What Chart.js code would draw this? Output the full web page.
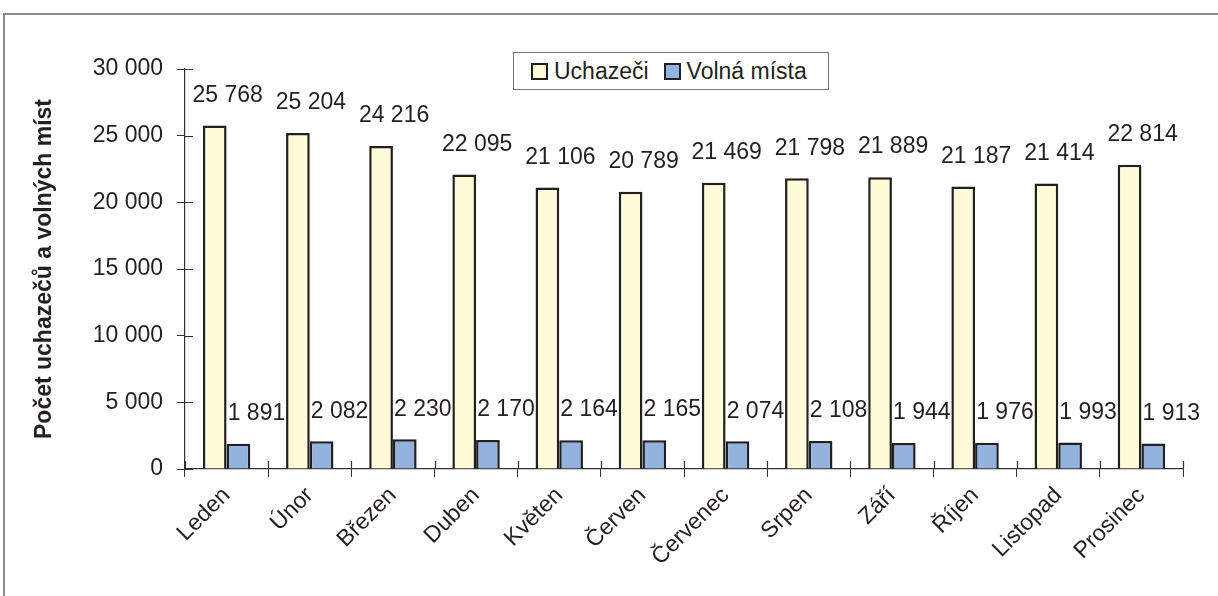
<!DOCTYPE html>
<html>
<head>
<meta charset="utf-8">
<script src="https://cdn.jsdelivr.net/npm/chart.js@4"></script>
<style>
  body { margin: 0; background: #fff; }
  #wrap { position: relative; width: 1218px; height: 596px; overflow: hidden; }
  #frame { position: absolute; left: 3px; top: 13px; width: 1300px; height: 700px;
           border: 2px solid #8a8a8a; box-sizing: border-box; }
  #legend { position: absolute; left: 513px; top: 52px; width: 316px; height: 38px;
            border: 1px solid #777; box-sizing: border-box; background: #fff;
            font: 23px "Liberation Sans", Arial, sans-serif; color: #231f20;
            display: flex; align-items: center; padding-left: 17px; }
  .sw { display: inline-block; width: 13px; height: 13px; border: 2px solid #231f20;
        margin-right: 6px; }
  .item { display: flex; align-items: center; margin-right: 15px; }
  canvas { position: absolute; left: 0; top: 0; }
</style>
</head>
<body>
<div id="wrap">
  <div id="frame"></div>
  <canvas id="myChart" width="1218" height="596"></canvas>
  <div id="legend">
    <span class="item"><span class="sw" style="background:#fffad8"></span>Uchazeči</span>
    <span class="item"><span class="sw" style="background:#93b3de"></span>Volná místa</span>
  </div>
</div>
<script>
var months = ["Leden","Únor","Březen","Duben","Květen","Červen","Červenec","Srpen","Září","Říjen","Listopad","Prosinec"];
var uchazeci = [25768, 25204, 24216, 22095, 21106, 20789, 21469, 21798, 21889, 21187, 21414, 22814];
var volnaMista = [1891, 2082, 2230, 2170, 2164, 2165, 2074, 2108, 1944, 1976, 1993, 1913];
var yTicks = [0, 5000, 10000, 15000, 20000, 25000, 30000];

function fmt(v) {
  return String(v).replace(/\B(?=(\d{3})+(?!\d))/g, " ");
}

var font = "Liberation Sans, Arial, sans-serif";
var ink = "#231f20";

// value labels above bars, shifted a bit to the right like in the original
var labelPlugin = {
  id: "labels",
  afterDatasetsDraw: function (chart) {
    var ctx = chart.ctx;
    ctx.save();
    ctx.font = "23px " + font;
    ctx.fillStyle = ink;
    ctx.textAlign = "center";
    ctx.textBaseline = "middle";
    var dx = [13, 18];
    chart.data.datasets.forEach(function (ds, i) {
      chart.getDatasetMeta(i).data.forEach(function (bar, j) {
        ctx.fillText(fmt(ds.data[j]), bar.x + dx[i], bar.y - 30);
      });
    });
    ctx.restore();
  }
};

// inner halves of the tick marks (ticks cross the axes)
var crossTicks = {
  id: "crossTicks",
  afterDraw: function (chart) {
    var ctx = chart.ctx, x = chart.scales.x, y = chart.scales.y;
    ctx.save();
    ctx.strokeStyle = "#333";
    ctx.lineWidth = 1.2;
    ctx.beginPath();
    yTicks.forEach(function (t) {
      var py = Math.round(y.getPixelForValue(t)) + 0.5;
      ctx.moveTo(x.left, py);
      ctx.lineTo(x.left + 8, py);
    });
    var w = (x.right - x.left) / months.length;
    for (var i = 0; i <= months.length; i++) {
      var px = Math.round(x.left + i * w) + 0.5;
      ctx.moveTo(px, y.bottom);
      ctx.lineTo(px, y.bottom - 8);
    }
    ctx.stroke();
    ctx.restore();
  }
};

new Chart("myChart", {
  type: "bar",
  data: {
    labels: months,
    datasets: [{
      label: "Uchazeči",
      data: uchazeci,
      backgroundColor: "#fffad8",
      borderColor: ink,
      borderWidth: 2.5
    }, {
      label: "Volná místa",
      data: volnaMista,
      backgroundColor: "#93b3de",
      borderColor: ink,
      borderWidth: 2.5
    }]
  },
  options: {
    responsive: false,
    animation: false,
    layout: { padding: { left: 0, right: 35, top: 69, bottom: 0 } },
    plugins: {
      legend: { display: false },
      tooltip: { enabled: false }
    },
    datasets: { bar: { categoryPercentage: 0.57, barPercentage: 1 } },
    scales: {
      x: {
        afterFit: function (s) { s.height = 127; },
        grid: { drawOnChartArea: false, tickLength: 8, color: "#333", offset: true },
        border: { color: "#333", width: 1.2 },
        ticks: { color: ink, font: { family: font, size: 23 }, maxRotation: 45, minRotation: 45, padding: 5 }
      },
      y: {
        min: 0, max: 30000,
        afterFit: function (s) { s.width = 185; },
        afterBuildTicks: function (s) { s.ticks = yTicks.map(function (v) { return { value: v }; }); },
        grid: { drawOnChartArea: false, tickLength: 8, color: "#333" },
        border: { color: "#333", width: 1.2 },
        ticks: { color: ink, font: { family: font, size: 23 }, padding: 14,
                 callback: function (v) { return fmt(v); } },
        title: { display: true, text: "Počet uchazečů a volných míst", color: ink,
                 font: { family: font, size: 23, weight: "bold" }, padding: { top: 31, bottom: 0 } }
      }
    }
  },
  plugins: [labelPlugin, crossTicks]
});
</script>
</body>
</html>
